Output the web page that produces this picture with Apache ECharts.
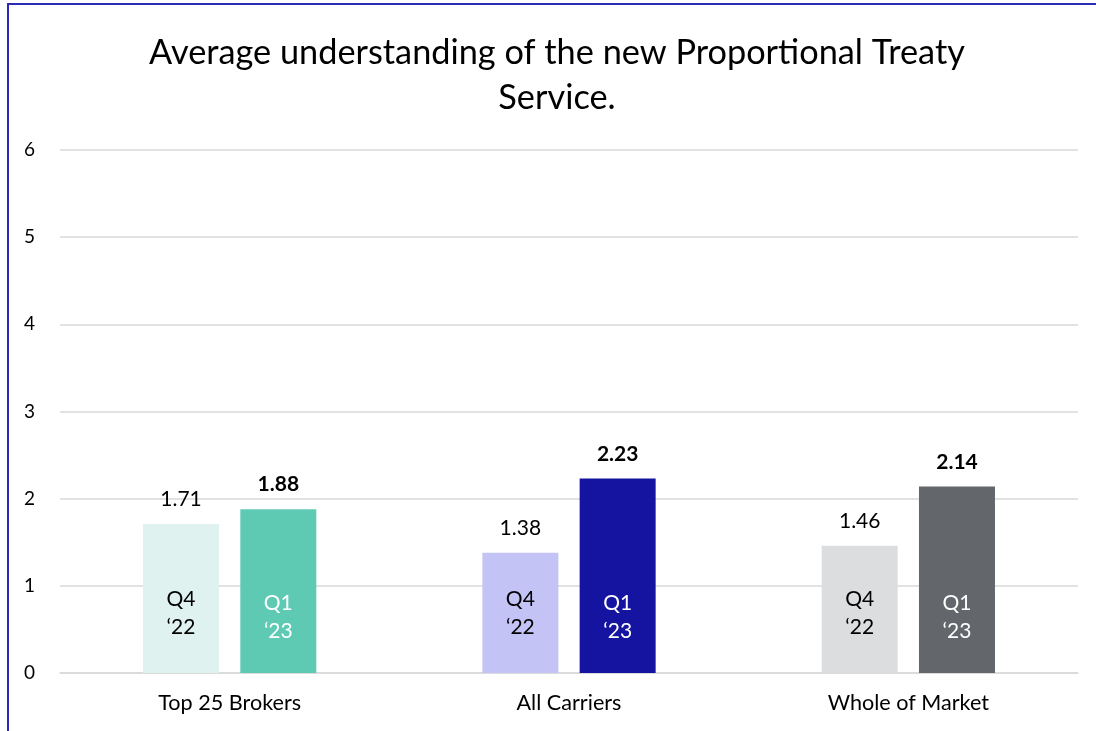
<!DOCTYPE html>
<html><head><meta charset="utf-8">
<script src="https://cdn.jsdelivr.net/npm/echarts@6/dist/echarts.min.js"></script>
<style>html,body{margin:0;padding:0;background:#fff}#c{width:1096px;height:731px}</style>
</head><body><div id="c"></div>
<script>
const categories = ['Top 25 Brokers', 'All Carriers', 'Whole of Market'];
const q4Values = [1.71, 1.38, 1.46];
const q1Values = [1.88, 2.23, 2.14];
const q4Name = 'Q4\n\u201822';
const q1Name = 'Q1\n\u201823';
const q4Colors = ['#dff2ef', '#c3c3f5', '#dcdddf'];
const q1Colors = ['#5ecab4', '#1414a0', '#63666a'];
const q4InnerText = ['#000000', '#000000', '#000000'];
const q1InnerText = ['#ffffff', '#ffffff', '#ffffff'];
const titleText = 'Average understanding of the new Proportional Treaty\nService.';
const FONT = 'Lato, "Open Sans", sans-serif';

const chart = echarts.init(document.getElementById('c'));

function mkData(vals, colors, inner) {
  return vals.map((v, i) => ({
    value: v,
    itemStyle: { color: colors[i] },
    label: { color: inner[i] }
  }));
}

const BW = 76, GAP = '28%';
chart.setOption({
  animation: false,
  graphic: [
    { type: 'rect', shape: { x: 8, y: 4, width: 1100, height: 740 },
      style: { fill: 'none', stroke: '#2a2ab4', lineWidth: 2 } },
    { type: 'text', x: 557, y: 30,
      style: { text: titleText, font: '34.3px ' + FONT, fill: '#000', align: 'center', lineHeight: 45 } }
  ],
  grid: { left: 60, right: 18, top: 150, bottom: 58 },
  xAxis: [{
    type: 'category', data: categories,
    axisLine: { lineStyle: { color: '#d9d9d9', width: 1.5 } },
    axisTick: { show: false },
    axisLabel: { color: '#000', fontSize: 21.6, fontFamily: FONT, margin: 19 }
  }, {
    type: 'category', data: categories, show: false
  }],
  yAxis: {
    type: 'value', min: 0, max: 6, interval: 1,
    axisLine: { show: false }, axisTick: { show: false },
    splitLine: { lineStyle: { color: '#d9d9d9', width: 1.5 } },
    axisLabel: { color: '#000', fontSize: 19, fontFamily: FONT, margin: 25 }
  },
  series: [
    {
      type: 'bar', name: 'Q4', barWidth: BW, barGap: GAP,
      data: mkData(q4Values, q4Colors, q4InnerText),
      label: { show: true, position: 'insideBottom', distance: 32, formatter: q4Name,
        fontSize: 21, lineHeight: 28, fontFamily: FONT }
    },
    {
      type: 'bar', name: 'Q1', barWidth: BW, barGap: GAP,
      data: mkData(q1Values, q1Colors, q1InnerText),
      label: { show: true, position: 'insideBottom', distance: 28, formatter: q1Name,
        fontSize: 21, lineHeight: 28, fontFamily: FONT }
    },
    {
      type: 'bar', name: 'Q4 value', xAxisIndex: 1, barWidth: BW, barGap: GAP,
      data: q4Values, itemStyle: { color: 'rgba(0,0,0,0)' }, silent: true,
      label: { show: true, position: 'top', distance: 14, color: '#000', fontSize: 21, fontFamily: FONT }
    },
    {
      type: 'bar', name: 'Q1 value', xAxisIndex: 1, barWidth: BW, barGap: GAP,
      data: q1Values, itemStyle: { color: 'rgba(0,0,0,0)' }, silent: true,
      label: { show: true, position: 'top', distance: 14, color: '#000', fontSize: 21, fontWeight: 'bold', fontFamily: FONT }
    }
  ]
});
</script></body></html>
